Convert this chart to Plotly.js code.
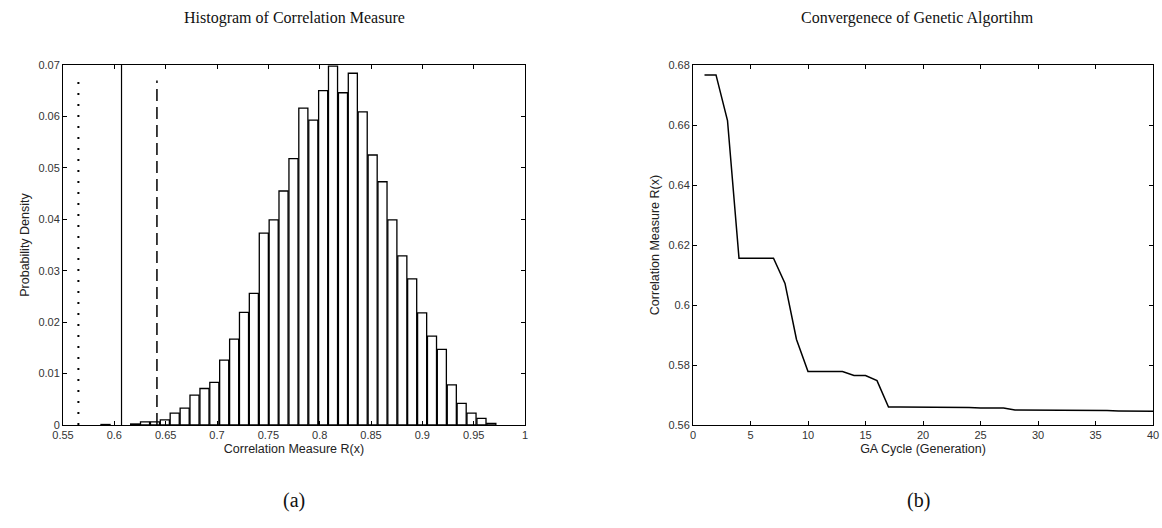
<!DOCTYPE html>
<html>
<head>
<meta charset="utf-8">
<script src="https://cdn.plot.ly/plotly-3.0.1.min.js"></script>
<style>
html,body{margin:0;padding:0;background:#fff;}
#chart{width:1162px;height:528px;}
</style>
</head>
<body>
<div id="chart"></div>
<script>
// ---- Histogram (a) ----
const binCenters = [0.5914, 0.6203, 0.6299, 0.6396, 0.6492, 0.6588, 0.6685, 0.6781, 0.6878, 0.6974,
  0.7070, 0.7167, 0.7263, 0.7359, 0.7456, 0.7552, 0.7648, 0.7745, 0.7841, 0.7938,
  0.8034, 0.8130, 0.8227, 0.8323, 0.8419, 0.8516, 0.8612, 0.8708, 0.8805, 0.8901,
  0.8998, 0.9094, 0.9190, 0.9287, 0.9383, 0.9479, 0.9576, 0.9672];
const density = [0.0001, 0.0002, 0.0006, 0.0006, 0.0010, 0.0023, 0.0033, 0.0058, 0.0071, 0.0083,
  0.0126, 0.0167, 0.0219, 0.0256, 0.0373, 0.0399, 0.0455, 0.0518, 0.0616, 0.0593,
  0.0650, 0.0698, 0.0646, 0.0684, 0.0609, 0.0525, 0.0473, 0.0399, 0.0329, 0.0284,
  0.0218, 0.0173, 0.0147, 0.0078, 0.0042, 0.0023, 0.0013, 0.0003];
const refLinesX = [0.565, 0.607, 0.6415];          // dotted, solid, dashed
const refLinesTop = [0.0668, 0.07, 0.0670];
const histXTicks = [0.55, 0.6, 0.65, 0.7, 0.75, 0.8, 0.85, 0.9, 0.95, 1];
const histXTickText = ["0.55", "0.6", "0.65", "0.7", "0.75", "0.8", "0.85", "0.9", "0.95", "1"];
const histYTicks = [0, 0.01, 0.02, 0.03, 0.04, 0.05, 0.06, 0.07];
const histYTickText = ["0", "0.01", "0.02", "0.03", "0.04", "0.05", "0.06", "0.07"];

// ---- Convergence (b) ----
const generation = [1,2,3,4,5,6,7,8,9,10,11,12,13,14,15,16,17,18,19,20,21,22,23,24,25,26,27,28,29,30,31,32,33,34,35,36,37,38,39,40];
const corrMeasure = [0.6767, 0.6767, 0.6615, 0.6156, 0.6156, 0.6156, 0.6156, 0.6072, 0.5885, 0.5778,
  0.5778, 0.5778, 0.5778, 0.5765, 0.5765, 0.5748, 0.5660, 0.5660, 0.5660, 0.5659,
  0.5659, 0.5659, 0.5658, 0.5658, 0.5657, 0.5657, 0.5657, 0.5650, 0.5650, 0.5650,
  0.5649, 0.5649, 0.5649, 0.5648, 0.5648, 0.5648, 0.5647, 0.5647, 0.5647, 0.5646];
const gaXTicks = [0, 5, 10, 15, 20, 25, 30, 35, 40];
const gaYTicks = [0.56, 0.58, 0.6, 0.62, 0.64, 0.66, 0.68];
const gaYTickText = ["0.56", "0.58", "0.6", "0.62", "0.64", "0.66", "0.68"];

const tickFont = {family: "Liberation Sans, Arial, sans-serif", size: 11, color: "#333"};
const axisTitleFont = {family: "Liberation Sans, Arial, sans-serif", size: 12.5, color: "#222"};

function axisBase(extra) {
  return Object.assign({
    showline: true, linecolor: "#000", linewidth: 1, mirror: "allticks",
    ticks: "inside", ticklen: 4, tickcolor: "#000", tickwidth: 1,
    showgrid: false, zeroline: false, tickfont: tickFont, fixedrange: true
  }, extra);
}

const traces = [
  {
    type: "bar", x: binCenters, y: density, xaxis: "x", yaxis: "y",
    marker: {color: "#fff", line: {color: "#000", width: 1.3}},
    hoverinfo: "x+y", showlegend: false
  },
  {
    type: "scatter", mode: "lines", x: generation, y: corrMeasure, xaxis: "x2", yaxis: "y2",
    line: {color: "#000", width: 1.5}, showlegend: false
  }
];

const dashStyles = ["2px,9px", "solid", "12px,6px"];
const lineWidths = [2, 1.2, 1.5];
const shapes = refLinesX.map((xv, i) => ({
  type: "line", xref: "x", yref: "y", x0: xv, x1: xv, y0: 0, y1: refLinesTop[i],
  line: {color: "#000", width: lineWidths[i], dash: dashStyles[i]}
}));

const serif = "Liberation Serif, Times New Roman, serif";
const layout = {
  width: 1162, height: 528,
  paper_bgcolor: "#fff", plot_bgcolor: "#fff",
  margin: {l: 0, r: 0, t: 65, b: 103},
  bargap: 0.08,
  showlegend: false,
  xaxis: axisBase({
    domain: [63/1162, 525/1162], range: [0.55, 1], anchor: "y",
    tickvals: histXTicks, ticktext: histXTickText,
    title: {text: "Correlation Measure R(x)", font: axisTitleFont, standoff: 4}
  }),
  yaxis: axisBase({
    domain: [0, 1], range: [0, 0.07], anchor: "x",
    tickvals: histYTicks, ticktext: histYTickText,
    title: {text: "Probability Density", font: axisTitleFont, standoff: 6}
  }),
  xaxis2: axisBase({
    domain: [693/1162, 1153/1162], range: [0, 40], anchor: "y2",
    tickvals: gaXTicks,
    title: {text: "GA Cycle (Generation)", font: axisTitleFont, standoff: 4}
  }),
  yaxis2: axisBase({
    domain: [0, 1], range: [0.56, 0.68], anchor: "x2",
    tickvals: gaYTicks, ticktext: gaYTickText,
    title: {text: "Correlation Measure R(x)", font: axisTitleFont, standoff: 6}
  }),
  shapes: shapes,
  annotations: [
    {text: "Histogram of Correlation Measure", xref: "paper", yref: "paper",
     x: 294/1162, y: 1 + 47/360, xanchor: "center", yanchor: "middle", showarrow: false,
     font: {family: serif, size: 16, color: "#111"}},
    {text: "Convergenece of Genetic Algortihm", xref: "paper", yref: "paper",
     x: 917/1162, y: 1 + 47/360, xanchor: "center", yanchor: "middle", showarrow: false,
     font: {family: serif, size: 16, color: "#111"}},
    {text: "(a)", xref: "paper", yref: "paper",
     x: 294/1162, y: -75/360, xanchor: "center", yanchor: "middle", showarrow: false,
     font: {family: serif, size: 20, color: "#111"}},
    {text: "(b)", xref: "paper", yref: "paper",
     x: 918/1162, y: -75/360, xanchor: "center", yanchor: "middle", showarrow: false,
     font: {family: serif, size: 20, color: "#111"}}
  ]
};

Plotly.newPlot("chart", traces, layout, {displayModeBar: false, staticPlot: true});
</script>
</body>
</html>
